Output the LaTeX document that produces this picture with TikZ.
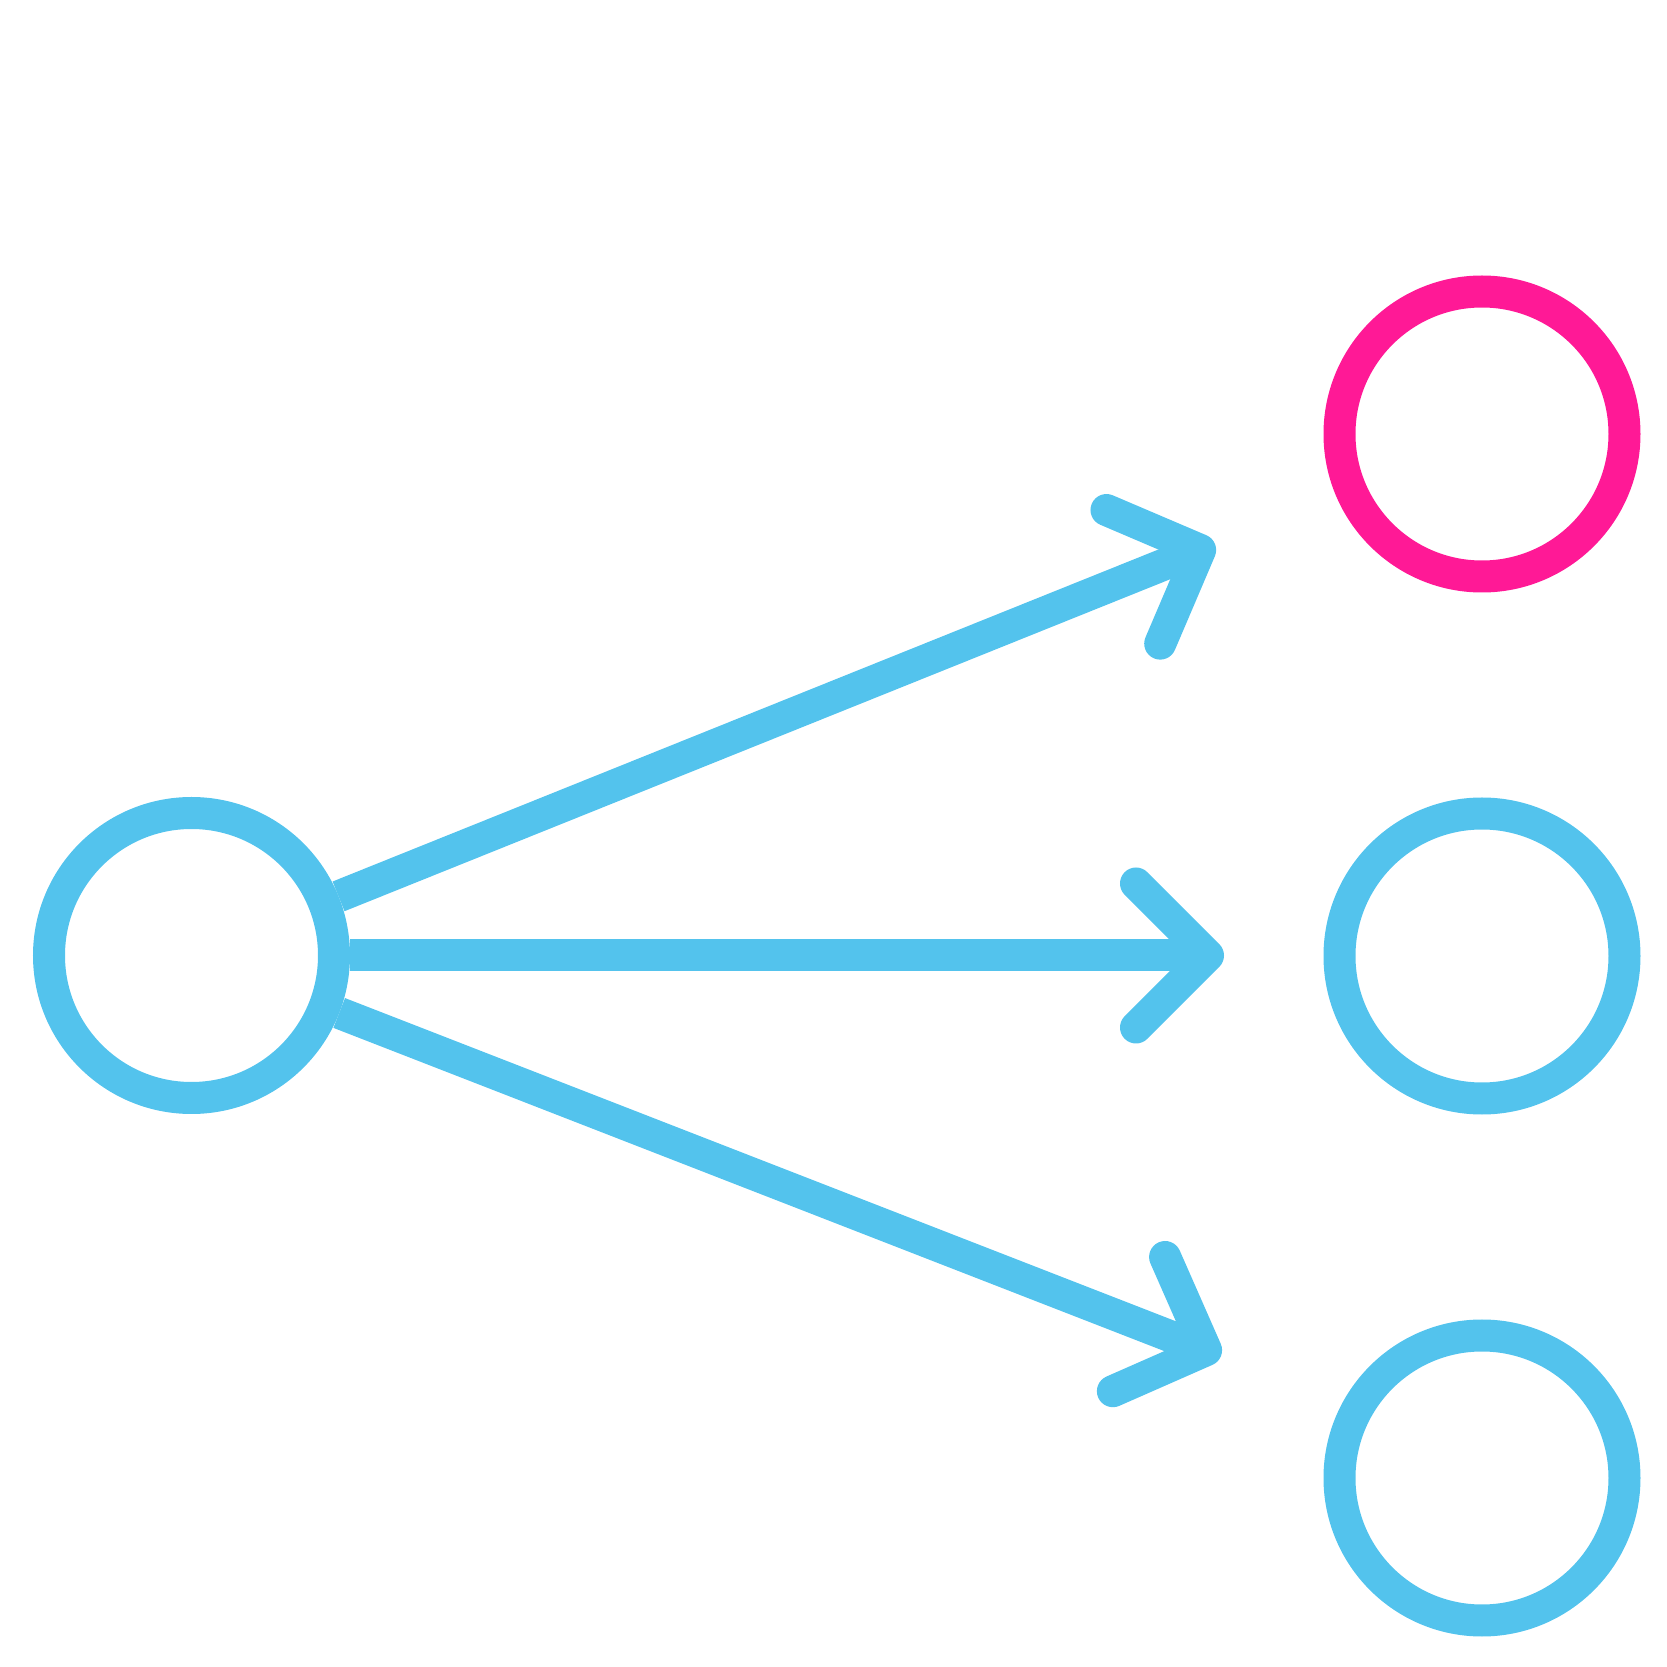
\documentclass[tikz,border=0pt]{standalone}
\usetikzlibrary{arrows.meta}
\definecolor{skyblue}{RGB}{83,195,237}
\definecolor{hotpink}{RGB}{255,25,150}

\begin{document}
\begin{tikzpicture}[
		ring/.style={circle, draw=skyblue, line width=0.32cm, minimum size=2.85cm, inner sep=0pt},
		link/.style={skyblue, line width=0.32cm, -{Straight Barb[round, length=0.72cm, width=1.44cm]}}]
		\useasboundingbox (0,0) rectangle (16.67,16.67);
		\node[ring] (src) at (1.915,7.115) {};
		\node[ring, draw=hotpink] (top) at (14.82,12.33) {};
		\node[ring] (mid) at (14.82,7.11) {};
		\node[ring] (bot) at (14.82,1.89) {};
		\coordinate (tA) at (12.15,11.23);
		\coordinate (tB) at (12.24,7.115);
		\coordinate (tC) at (12.21,3.11);
		\draw[link] (src) -- (tA);
		\draw[link] (src) -- (tB);
		\draw[link] (src) -- (tC);
	\end{tikzpicture}
\end{document}
